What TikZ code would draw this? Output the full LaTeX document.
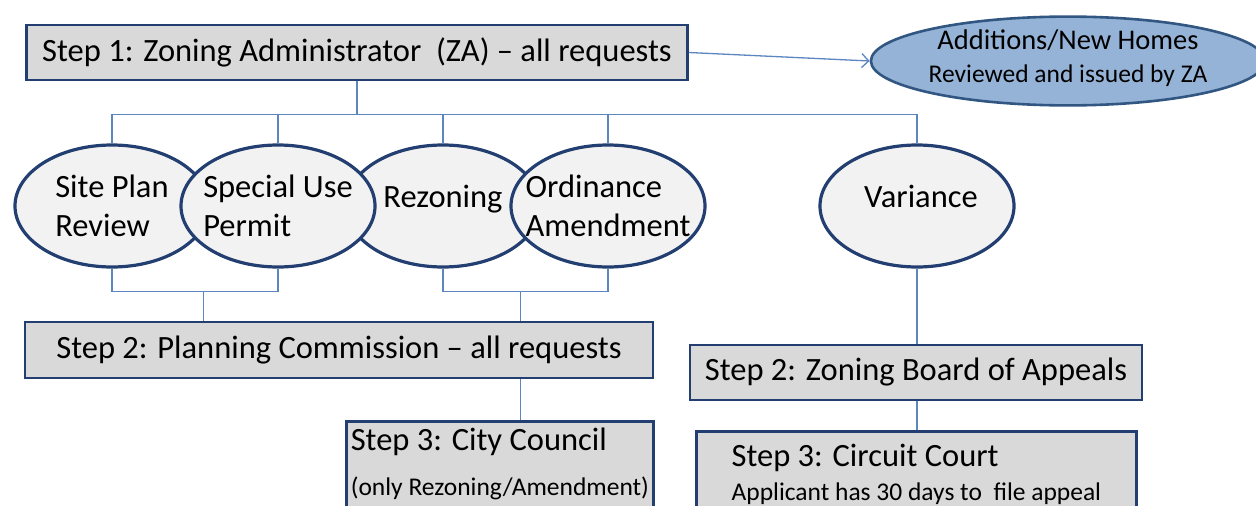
\documentclass[tikz,border=0pt]{standalone}
\usepackage{fontspec}
\setmainfont{Carlito}
\usetikzlibrary{shapes.geometric,arrows.meta,calc}
\definecolor{navy}{RGB}{35,62,112}
\definecolor{wire}{RGB}{92,134,191}
\definecolor{boxgray}{RGB}{217,217,217}
\definecolor{ovalgray}{RGB}{242,242,242}
\definecolor{skyfill}{RGB}{149,179,215}
\definecolor{skyline}{RGB}{50,86,130}
\newcommand{\bigtxt}{\fontsize{32.5}{39}\selectfont}
\newcommand{\midtxt}{\fontsize{28.5}{33}\selectfont}
\newcommand{\smalltxt}{\fontsize{25.5}{30}\selectfont}
% invisible depth that lifts a text above its shape's centre
\newcommand{\lift}[1]{\rule[-#1]{0pt}{#1}}
\tikzset{
  stepbox/.style={draw=navy, line width=2.8pt, fill=boxgray, font=\bigtxt,
                  inner sep=3pt, align=center},
  ovaltext/.style={font=\bigtxt, inner sep=0pt, align=left},
  % the oval keeps its size, its text sits on top as a label
  reqoval/.style={ellipse, draw=navy, line width=3.2pt, fill=ovalgray,
                  inner sep=0pt, minimum width=194, minimum height=122,
                  label={[ovaltext]center:#1}},
  link/.style={wire, line width=1.3pt},
  zaflow/.style={link, -{Straight Barb[length=7pt, width=14pt]}},
}

\begin{document}
\begin{tikzpicture}[x=1pt, y=-1pt]
\path[use as bounding box, clip] (0,0) rectangle (1256,506);

% ---------------------------------------------------------------- step 1
\node[stepbox, minimum width=661, minimum height=55] (za) at (357,52.5)
  {Step 1: Zoning Administrator~ (ZA) -- all requests};

\node[ellipse, draw=skyline, line width=2.6pt, fill=skyfill, inner sep=0pt,
      minimum width=374, minimum height=78, align=center, font=\smalltxt]
  (homes) at (1068,61)
  {{\midtxt Additions/New Homes}\\[3pt]Reviewed and issued by ZA\lift{10pt}};
\draw[zaflow] (za.east) -- (homes.west);

% ---------------------------------------------------------------- request types
\node[reqoval={Site Plan\\Review}] (site) at (112,206) {};
\node[reqoval={Rezoning\lift{20pt}}] (rez) at (443,206) {};
\node[reqoval={Special Use\\Permit}] (spu) at (278,206) {};
\node[reqoval={Ordinance\\Amendment}] (ord) at (608,206) {};
\node[reqoval={\hspace*{8pt}Variance\lift{20pt}}] (var) at (917,206) {};

% bus from step 1 down to every request
\draw[link] (za.south) -- ++(0,33) coordinate (hub);
\draw[link] (site.north) |- (hub) -| (var.north);
\foreach \n in {spu,rez,ord}
  \draw[link] (\n.north) -- (\n.north |- hub);

% ---------------------------------------------------------------- step 2
\node[stepbox, minimum width=628, minimum height=56] (pc) at (339,350)
  {Step 2: Planning Commission -- all requests};
\node[stepbox, minimum width=452, minimum height=55] (zba) at (916,372.5)
  {Step 2: Zoning Board of Appeals};

\draw[link] (site.south) -- ++(0,23) coordinate (lb) -| (spu.south);
\coordinate (lj) at ($(lb)!.55!(lb -| spu.south)$);
\draw[link] (lj) -- (lj |- pc.north);
\draw[link] (rez.south) -- ++(0,23) coordinate (rb) -| (ord.south);
\coordinate (rj) at ($(rb)!.47!(rb -| ord.south)$);
\draw[link] (rj) -- (rj |- pc.north);
\draw[link] (var.south) -- (var.south |- zba.north);

% ---------------------------------------------------------------- step 3
\node[stepbox, anchor=north west, align=left, minimum width=307,
      minimum height=86] (cc) at (345,420)
  {Step 3: City Council\\[6pt]{\smalltxt (only Rezoning/Amendment)}};
\node[stepbox, anchor=north west, align=left, minimum width=440,
      minimum height=86] (court) at (695,430)
  {Step 3: Circuit Court\\[-5pt]{\smalltxt Applicant has 30 days to~ file appeal}};

\draw[link] (rj |- pc.south) -- (rj |- cc.north);
\draw[link] (var.south |- zba.south) -- (var.south |- court.north);

\end{tikzpicture}
\end{document}
